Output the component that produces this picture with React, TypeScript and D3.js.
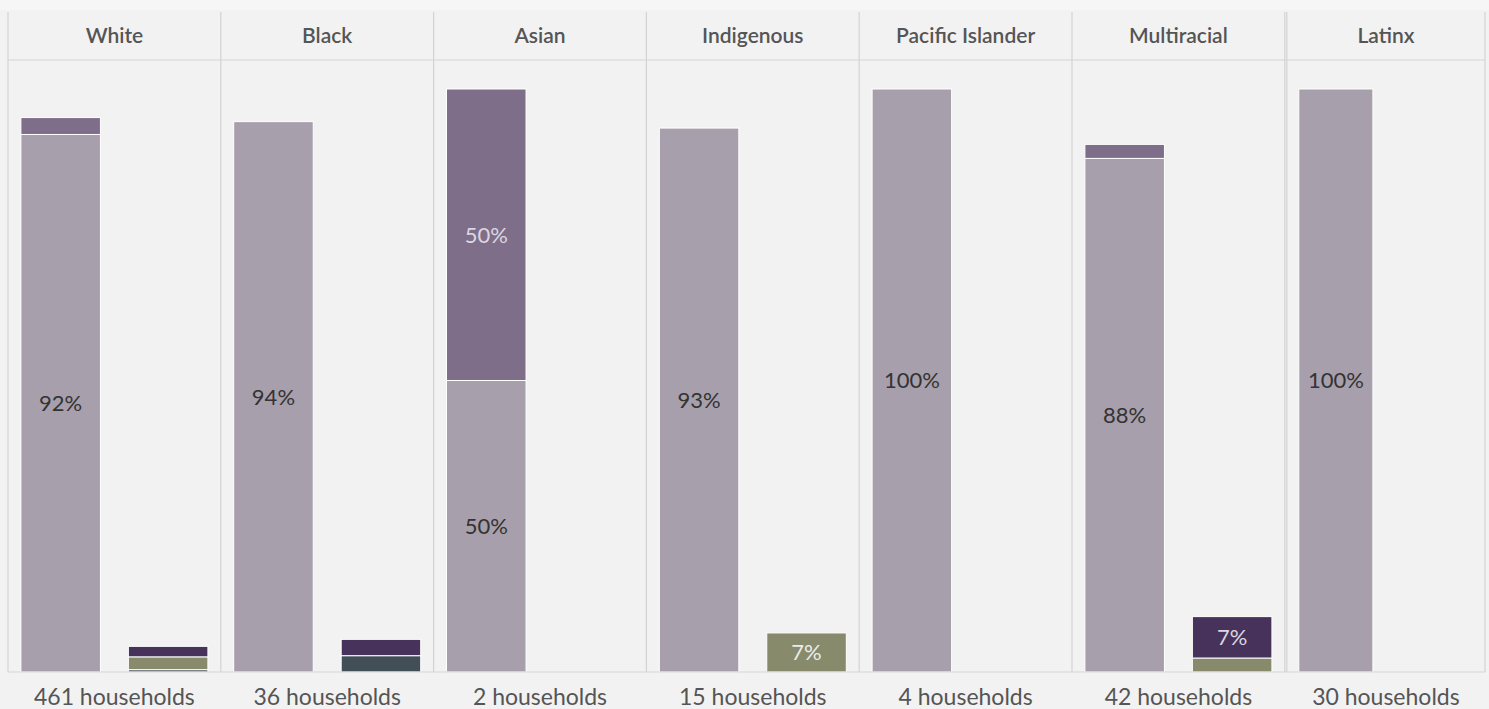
import * as d3 from "d3";

const categories = ["White", "Black", "Asian", "Indigenous", "Pacific Islander", "Multiracial", "Latinx"];
const households = [461, 36, 2, 15, 4, 42, 30];

// left bar (bottom -> top)
const grayPct = [92.2, 94.4, 50, 93.3, 100, 88.1, 100];
const mauvePct = [2.9, 0, 50, 0, 0, 2.4, 0];
// right bar (bottom -> top)
const slatePct = [0.4, 2.8, 0, 0, 0, 0, 0];
const olivePct = [2.2, 0, 0, 6.7, 0, 2.4, 0];
const plumPct = [1.8, 2.8, 0, 0, 0, 7.1, 0];

const series = [
  { key: "gray", bar: "left", values: grayPct, fill: "#a89fac", text: "#333333" },
  { key: "mauve", bar: "left", values: mauvePct, fill: "#7e6e89", text: "#dcd6e0" },
  { key: "slate", bar: "right", values: slatePct, fill: "#434f57", text: "#e8e8e8" },
  { key: "olive", bar: "right", values: olivePct, fill: "#888b6b", text: "#ececec" },
  { key: "plum", bar: "right", values: plumPct, fill: "#46325a", text: "#dcd6e0" },
];

const W = 1489;
const H = 709;
const left = 8;
const right = 1485;
const top = 12;
const headerBottom = 60;
const baseline = 672;
const font = "Lato, 'Open Sans', sans-serif";

export default function App() {
  const panel = d3.scaleBand<string>().domain(categories).range([left, left + 212.8 * categories.length]);
  const y = d3.scaleLinear().domain([0, 100]).range([baseline, 89]);
  const last = categories[categories.length - 1];

  return (
    <svg width={W} height={H} style={{ position: "absolute", left: 0, top: 0, background: "#f2f2f2" }}>
      <rect x={0} y={0} width={W} height={top - 2} fill="#f6f6f6" />
      {categories.map((cat, i) => {
        const x0 = panel(cat)! + (cat === last ? 2 : 0);
        const pw = Math.min(panel.step(), right - x0);
        const inner = d3.scaleBand<string>().domain(["left", "right"]).range([0, pw])
          .paddingInner(0.26).paddingOuter(0.12);
        const stacks: Record<string, number> = { left: 0, right: 0 };
        return (
          <g key={cat} transform={`translate(${x0},0)`}>
            <text x={pw / 2} y={43} textAnchor="middle" fontFamily={font} fontWeight={600}
              fontSize={21} fill="#555">{cat}</text>
            {series.map(s => {
              const v = s.values[i];
              if (!v) return null;
              const y0 = stacks[s.bar];
              stacks[s.bar] = y0 + v;
              const yTop = y(y0 + v);
              const yBot = y(y0);
              const bx = inner(s.bar)!;
              return (
                <g key={s.key}>
                  <rect x={bx} y={yTop} width={inner.bandwidth()} height={yBot - yTop}
                    fill={s.fill} stroke="#fff" strokeWidth={1} />
                  {v >= 5 && (
                    <text x={bx + inner.bandwidth() / 2} y={(yTop + yBot) / 2} dy="0.36em"
                      textAnchor="middle" fontFamily={font} fontSize={22} fill={s.text}>
                      {Math.round(v)}%
                    </text>
                  )}
                </g>
              );
            })}
            <text x={pw / 2} y={705} textAnchor="middle" fontFamily={font} fontSize={23}
              fill="#555">{households[i]} households</text>
          </g>
        );
      })}
      {/* grid lines */}
      <g stroke="#d3d3d3" strokeWidth={1.2}>
        <line x1={left} x2={right} y1={headerBottom} y2={headerBottom} />
        <line x1={left} x2={right} y1={baseline} y2={baseline} />
        {categories.map(cat => (
          <line key={cat} x1={panel(cat)!} x2={panel(cat)!} y1={top} y2={baseline} />
        ))}
        <line x1={panel(last)! + 2} x2={panel(last)! + 2} y1={top} y2={baseline} />
        <line x1={right} x2={right} y1={top} y2={baseline} />
      </g>
    </svg>
  );
}
